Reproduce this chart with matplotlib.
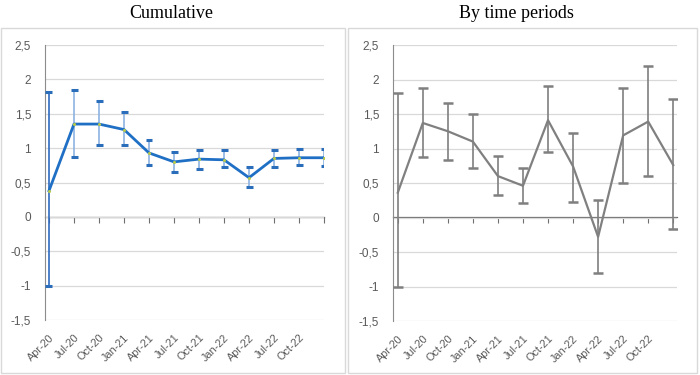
import matplotlib
matplotlib.use("Agg")
import matplotlib.pyplot as plt
from matplotlib.patches import Rectangle

# quarterly periods
periods = ["Apr-20", "Jul-20", "Oct-20", "Jan-21", "Apr-21", "Jul-21",
           "Oct-21", "Jan-22", "Apr-22", "Jul-22", "Oct-22", "Jan-23"]
tick_labels = periods[:-1] + [""]

# cumulative estimate and CI
cum_val = [0.38, 1.35, 1.35, 1.27, 0.93, 0.80, 0.84, 0.83, 0.57, 0.85, 0.86, 0.86]
cum_lo = [-1.00, 0.87, 1.04, 1.04, 0.76, 0.65, 0.70, 0.72, 0.43, 0.73, 0.75, 0.74]
cum_hi = [1.81, 1.85, 1.69, 1.52, 1.12, 0.95, 0.98, 0.98, 0.73, 0.98, 0.99, 0.99]

# estimates by time period and CI
per_val = [0.36, 1.37, 1.25, 1.10, 0.60, 0.46, 1.41, 0.74, -0.28, 1.19, 1.39, 0.76]
per_lo = [-1.00, 0.88, 0.84, 0.72, 0.32, 0.21, 0.95, 0.22, -0.80, 0.50, 0.60, -0.16]
per_hi = [1.81, 1.87, 1.66, 1.50, 0.89, 0.72, 1.90, 1.23, 0.25, 1.88, 2.19, 1.72]

yticks = [2.5, 2, 1.5, 1, 0.5, 0, -0.5, -1, -1.5]
ytick_labels = ["2,5", "2", "1,5", "1", "0,5", "0", "-0,5", "-1", "-1,5"]

fig = plt.figure(figsize=(7, 3.75), dpi=100)
fig.patch.set_facecolor("white")

# chart area frames
fig.add_artist(Rectangle((1/700, 2/375), 344/700, 345/375, transform=fig.transFigure,
                         fill=False, edgecolor="#d9d9d9", lw=1))
fig.add_artist(Rectangle((348/700, 2/375), 349/700, 345/375, transform=fig.transFigure,
                         fill=False, edgecolor="#d9d9d9", lw=1))

fig.text(171/700, 1 - 13/375, "Cumulative", family="Liberation Serif",
         fontsize=13, ha="center", va="center")
fig.text(516/700, 1 - 13/375, "By time periods", family="Liberation Serif",
         fontsize=13, ha="center", va="center")

ax1 = fig.add_axes([45/700, 1 - 320/375, (324 - 45)/700, 275/375])
ax2 = fig.add_axes([393/700, 1 - 321/375, (677 - 393)/700, 276/375])

x = list(range(len(periods)))


def style(ax, xlim):
    ax.set_ylim(-1.5, 2.5)
    ax.set_xlim(*xlim)
    ax.set_yticks(yticks)
    ax.set_yticklabels(ytick_labels, family="Liberation Sans", fontsize=8.5, color="#595959")
    ax.tick_params(axis="y", length=0, pad=10)
    ax.grid(axis="y", color="#d9d9d9", lw=0.9)
    ax.set_axisbelow(True)
    for s in ["top", "right", "bottom"]:
        ax.spines[s].set_visible(False)
    ax.spines["left"].set_color("#8c8c8c")
    ax.set_xticks(x)
    ax.set_xticklabels(tick_labels, rotation=45, ha="right", rotation_mode="anchor",
                       family="Liberation Sans", fontsize=7.8, color="#595959")
    ax.tick_params(axis="x", length=0, pad=9)
    # category axis crossing at zero
    zero = (0 + 1.5) / 4.0
    sec = ax.secondary_xaxis(zero)
    sec.set_xticks(x)
    sec.set_xticklabels([])
    sec.tick_params(axis="x", direction="out", length=4, color="#6f6f6f", width=0.8)
    sec.spines["bottom"].set_color("#6f6f6f")
    sec.spines["bottom"].set_linewidth(0.9)


style(ax1, (-0.16, 11.0))
style(ax2, (-0.19, 11.15))

# left panel
for i in x:
    vcol = "#2f6bc0" if i == 0 else "#8db3e2"
    ax1.plot([i, i], [cum_lo[i], cum_hi[i]], color=vcol, lw=1.2, zorder=3)
    for yv in (cum_lo[i], cum_hi[i]):
        ax1.plot([i - 0.14, i + 0.14], [yv, yv], color="#2a6ebb", lw=2.2, zorder=3,
                 solid_capstyle="butt")
ax1.plot(x, cum_val, color="#1f6fc5", lw=2, zorder=4)
ax1.plot(x, cum_val, ls="none", marker="o", ms=1.2, color="#b5c94c", zorder=5)

# right panel
ax2.errorbar(x, per_val, yerr=[[v - l for v, l in zip(per_val, per_lo)],
                               [h - v for v, h in zip(per_val, per_hi)]],
             fmt="none", ecolor="#7f7f7f", elinewidth=1.2, capsize=3.5, capthick=1.8,
             zorder=3)
ax2.plot(x, per_val, color="#808080", lw=1.6, zorder=4)

fig.savefig("out.png", dpi=100)
